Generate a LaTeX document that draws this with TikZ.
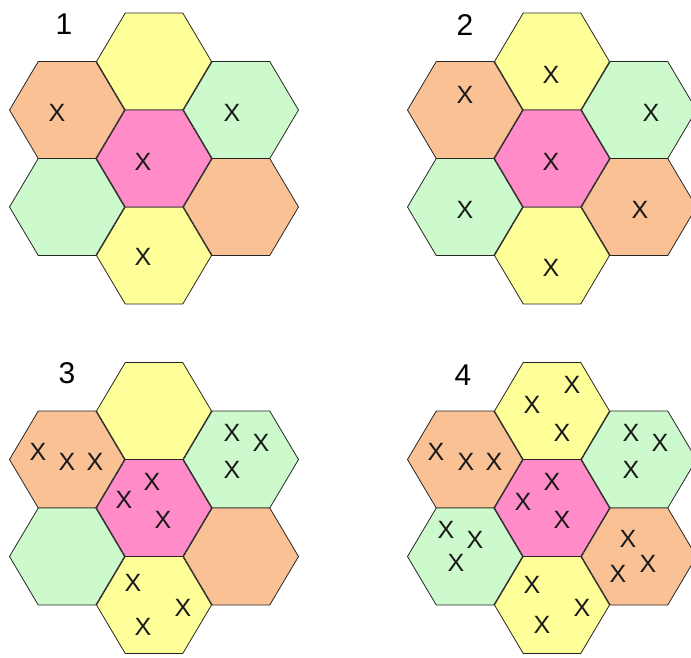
\documentclass[tikz,border=0pt]{standalone}
\usepackage{fontspec}
\setmainfont{Liberation Sans}
\usetikzlibrary{calc}
\definecolor{hyel}{HTML}{FFFF99}
\definecolor{hora}{HTML}{FAC195}
\definecolor{hgrn}{HTML}{CCFACC}
\definecolor{hpnk}{HTML}{FF8CC8}
\tikzset{
  hx/.style   = {draw=black!85, line width=0.8pt, line join=miter},
  mk/.style   = {inner sep=0pt, text=black!90, font=\fontsize{25}{25}\selectfont},
  num/.style  = {inner sep=0pt, font=\fontsize{30}{30}\selectfont},
}
\newcommand{\hexat}[2]{%
  \filldraw[hx, fill=#1] (#2) +(-57.5,0) -- +(-28.75,-48.5) -- +(28.75,-48.5)
    -- +(57.5,0) -- +(28.75,48.5) -- +(-28.75,48.5) -- cycle;}

\begin{document}
\begin{tikzpicture}[x=1pt,y=-1pt]
  \useasboundingbox (0,0) rectangle (691,657);
  \foreach \k/\cx/\cy in {1/154/158.5, 2/552/158.5, 3/154/508, 4/552/508} {
    \coordinate (c\k) at (\cx,\cy);
    \coordinate (t\k) at ($(c\k)+(0,-97)$);
    \coordinate (b\k) at ($(c\k)+(0,97)$);
    \coordinate (ul\k) at ($(c\k)+(-87,-48.5)$);
    \coordinate (ll\k) at ($(c\k)+(-87,48.5)$);
    \coordinate (ur\k) at ($(c\k)+(87,-48.5)$);
    \coordinate (lr\k) at ($(c\k)+(87,48.5)$);
    \hexat{hyel}{t\k}
    \hexat{hora}{ul\k}
    \hexat{hgrn}{ur\k}
    \hexat{hgrn}{ll\k}
    \hexat{hora}{lr\k}
    \hexat{hyel}{b\k}
    \hexat{hpnk}{c\k}
  }
  \node[num] (n1) at (64,24)  {1};
  \node[num] (n2) at (465,25) {2};
  \node[num] (n3) at (67,373) {3};
  \node[num] (n4) at (463,375) {4};

  \foreach \i/\x/\y in {1/57/113, 2/232/113, 3/143/162, 4/143/257}
    \node[mk] (xa\i) at (\x,\y) {X};

  \foreach \i/\x/\y in {1/551/75, 2/465/95, 3/651/113, 4/551/162,
                        5/465/210, 6/640/210, 7/551/268}
    \node[mk] (xb\i) at (\x,\y) {X};

  \foreach \i/\x/\y in {1/38/452, 2/67/462, 3/95/462, 4/232/433, 5/261/443,
                        6/232/470, 7/152/482, 8/124/500, 9/163/520,
                        10/133/583, 11/183/608, 12/143/627}
    \node[mk] (xc\i) at (\x,\y) {X};

  \foreach \i/\x/\y in {1/532/405, 2/572/385, 3/562/433, 4/436/452, 5/466/462,
                        6/494/462, 7/631/433, 8/660/443, 9/631/470,
                        10/552/482, 11/523/502, 12/562/520, 13/446/530,
                        14/475/540, 15/456/563, 16/628/539, 17/648/564,
                        18/618/574, 19/532/585, 20/582/608, 21/542/625}
    \node[mk] (xd\i) at (\x,\y) {X};
\end{tikzpicture}
\end{document}
